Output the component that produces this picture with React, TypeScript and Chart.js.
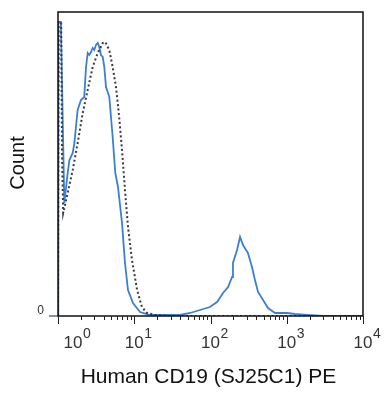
import React, { useEffect, useRef } from "react";
import { Chart, registerables } from "chart.js";

Chart.register(...registerables);

// Blue (stained) histogram: fluorescence intensity and count
const blueX = [1.0, 1.01, 1.09, 1.21, 1.34, 1.41, 1.56, 1.64, 1.72, 1.81, 2.0, 2.21, 2.33, 2.45, 2.57, 2.71, 2.85, 2.99, 3.15, 3.32, 3.48, 3.66, 3.86, 4.05, 4.26, 4.71, 5.21, 5.64, 6.12, 6.91, 7.56, 8.28, 9.63, 11.9, 16.1, 25, 40, 54, 73, 98, 122, 146, 170, 192, 197, 223, 244, 267, 310, 350, 383, 420, 489, 568, 702, 1007, 1283, 1845, 3000, 10000];
const blueY = [0, 294, 294, 113, 143, 156, 163, 173, 189, 206, 216, 219, 249, 263, 261, 264, 268, 266, 271, 273, 269, 261, 259, 249, 229, 219, 179, 143, 129, 93, 53, 26, 13, 4, 1, 1, 1, 3, 6, 9, 14, 23, 29, 39, 53, 66, 79, 71, 63, 49, 36, 24, 16, 8, 3, 3, 2, 1, 0, 0];

// Dotted (control) histogram
const dotX = [1.0, 1.02, 1.1, 1.13, 1.17, 1.34, 1.56, 1.81, 2.11, 2.45, 2.85, 3.32, 3.86, 4.17, 4.71, 5.21, 5.76, 6.31, 6.91, 7.56, 8.28, 9.34, 10.9, 12.6, 14.7, 18.7, 29.4, 10000];
const dotY = [0, 294, 294, 160, 103, 123, 146, 173, 203, 226, 249, 263, 273, 274, 266, 249, 229, 201, 166, 126, 89, 56, 26, 9, 3, 1, 0, 0];

const xTickExponents = [0, 1, 2, 3, 4];
const yTickLabels = ["0"];
const xTitle = "Human CD19 (SJ25C1) PE";
const yTitle = "Count";

const FONT = '"Liberation Sans", Arial, sans-serif';

const axesPlugin = {
  id: "flowAxes",
  afterDraw(chart: any) {
    const { ctx, chartArea } = chart;
    const xs = chart.scales.x;
    const ys = chart.scales.y;
    const { left, right, top, bottom } = chartArea;
    ctx.save();
    // frame
    ctx.strokeStyle = "#111";
    ctx.lineWidth = 1.5;
    ctx.strokeRect(left, top, right - left, bottom - top);

    // x ticks
    ctx.lineWidth = 1;
    ctx.strokeStyle = "#222";
    ctx.beginPath();
    for (const e of xTickExponents) {
      const px = Math.round(xs.getPixelForValue(Math.pow(10, e))) + 0.5;
      ctx.moveTo(px, bottom);
      ctx.lineTo(px, bottom + 8);
      if (e < xTickExponents[xTickExponents.length - 1]) {
        for (let m = 2; m <= 9; m++) {
          const mx = Math.round(xs.getPixelForValue(m * Math.pow(10, e))) + 0.5;
          ctx.moveTo(mx, bottom);
          ctx.lineTo(mx, bottom + 4);
        }
      }
    }
    // y tick at 0
    const y0 = ys.getPixelForValue(0);
    ctx.moveTo(left - 9, y0);
    ctx.lineTo(left, y0);
    ctx.stroke();

    // x tick labels 10^n
    ctx.fillStyle = "#333";
    for (const e of xTickExponents) {
      let px = xs.getPixelForValue(Math.pow(10, e));
      if (e === 0) px += 15;
      ctx.font = `17px ${FONT}`;
      ctx.textAlign = "center";
      ctx.textBaseline = "alphabetic";
      ctx.fillText("10", px, bottom + 32);
      const w = ctx.measureText("10").width;
      ctx.font = `14px ${FONT}`;
      ctx.textAlign = "left";
      ctx.fillText(String(e), px + w / 2 + 0.5, bottom + 22);
    }

    // y tick label
    ctx.font = `12px ${FONT}`;
    ctx.textAlign = "right";
    ctx.textBaseline = "middle";
    ctx.fillText(yTickLabels[0], left - 14, y0 - 5);

    // titles
    ctx.fillStyle = "#111";
    ctx.font = `21px ${FONT}`;
    ctx.textAlign = "center";
    ctx.textBaseline = "alphabetic";
    ctx.fillText(xTitle, (left + right) / 2 - 2, 383);

    ctx.save();
    ctx.translate(24, 163);
    ctx.rotate(-Math.PI / 2);
    ctx.font = `20px ${FONT}`;
    ctx.textAlign = "center";
    ctx.textBaseline = "alphabetic";
    ctx.fillText(yTitle, 0, 0);
    ctx.restore();

    ctx.restore();
  },
};

export default function App() {
  const ref = useRef<HTMLCanvasElement | null>(null);
  useEffect(() => {
    if (!ref.current) return;
    const chart = new Chart(ref.current, {
      type: "line",
      data: {
        datasets: [
          {
            label: "Control",
            data: dotX.map((x, i) => ({ x, y: dotY[i] })),
            borderColor: "#3a3a3a",
            borderWidth: 2,
            borderDash: [2, 2.5],
            pointRadius: 0,
            tension: 0,
            fill: false,
          },
          {
            label: "CD19",
            data: blueX.map((x, i) => ({ x, y: blueY[i] })),
            borderColor: "#3b7fd4",
            borderWidth: 1.8,
            pointRadius: 0,
            tension: 0,
            fill: false,
          },
        ],
      },
      options: {
        responsive: false,
        animation: false,
        layout: { padding: { left: 58, top: 12, right: 25, bottom: 78 } },
        plugins: { legend: { display: false }, tooltip: { enabled: false } },
        scales: {
          x: { type: "logarithmic", min: 1, max: 10000, display: false },
          y: { type: "linear", min: 0, max: 304, display: false },
        },
      },
      plugins: [axesPlugin],
    });
    return () => chart.destroy();
  }, []);
  return (
    <div style={{ position: "absolute", left: 0, top: 0, width: 388, height: 394, background: "#fff" }}>
      <canvas ref={ref} width={388} height={394} />
    </div>
  );
}
